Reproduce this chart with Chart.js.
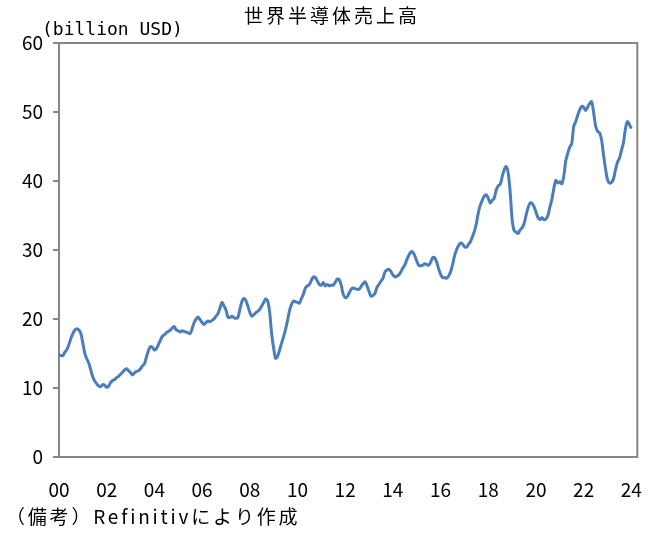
<!DOCTYPE html>
<html>
<head>
<meta charset="utf-8">
<script src="https://cdn.jsdelivr.net/npm/chart.js@4"></script>
<style>
  html, body { margin: 0; padding: 0; background: #fff; }
  #wrap { width: 655px; height: 533px; }
</style>
</head>
<body>
<div id="wrap"><canvas id="chart" width="655" height="533"></canvas></div>
<script>
// Monthly world semiconductor sales, billion USD, Jan 2000 - Jan 2024
const chartTitle = "世界半導体売上高";
const unitLabel = "(billion USD)";
const sourceNote = "（備考）Refinitivにより作成";
const startYear = 2000;
const tickYears = [2000, 2002, 2004, 2006, 2008, 2010, 2012, 2014, 2016, 2018, 2020, 2022, 2024];
const yTicks = [0, 10, 20, 30, 40, 50, 60];
const monthlySales = [
  14.8, 14.7, 14.7, 15.2, 15.6, 16.3, 17.2, 17.9, 18.4, 18.6, 18.4, 17.9, // 2000
  16.5, 15.0, 14.2, 13.6, 12.6, 11.6, 11.0, 10.6, 10.3, 10.2, 10.5, 10.4, // 2001
  10.1, 10.3, 10.8, 11.1, 11.2, 11.5, 11.7, 12.0, 12.3, 12.6, 12.8, 12.5, // 2002
  12.2, 11.9, 12.2, 12.4, 12.5, 12.8, 13.2, 13.5, 14.5, 15.4, 16.0, 15.9, // 2003
  15.5, 15.7, 16.3, 16.9, 17.5, 17.7, 18.0, 18.2, 18.4, 18.7, 18.9, 18.4, // 2004
  18.3, 18.1, 18.3, 18.2, 18.1, 18.0, 17.9, 18.6, 19.5, 20.0, 20.3, 19.9, // 2005
  19.5, 19.2, 19.5, 19.7, 19.6, 19.8, 20.0, 20.4, 20.8, 21.6, 22.4, 21.9, // 2006
  21.3, 20.3, 20.2, 20.4, 20.2, 20.1, 20.2, 21.4, 22.5, 23.0, 22.7, 21.9, // 2007
  21.0, 20.4, 20.6, 20.9, 21.1, 21.4, 21.9, 22.4, 22.9, 22.6, 21.0, 17.9, // 2008
  15.8, 14.3, 14.6, 15.5, 16.5, 17.4, 18.5, 19.8, 21.2, 22.1, 22.6, 22.5, // 2009
  22.4, 22.3, 23.0, 23.6, 24.5, 24.8, 25.0, 25.6, 26.1, 26.0, 25.5, 25.0, // 2010
  24.9, 25.3, 24.8, 25.0, 24.8, 24.9, 24.9, 25.3, 25.8, 25.7, 24.9, 23.6, // 2011
  23.1, 23.2, 23.8, 24.3, 24.5, 24.4, 24.3, 24.3, 24.7, 25.1, 25.4, 24.8, // 2012
  24.0, 23.3, 23.4, 23.7, 24.6, 25.0, 25.5, 25.9, 26.8, 27.1, 27.2, 26.9, // 2013
  26.4, 26.1, 26.2, 26.4, 26.8, 27.4, 27.8, 28.6, 29.2, 29.7, 29.7, 29.2, // 2014
  28.4, 27.8, 27.7, 27.8, 28.0, 27.9, 27.8, 28.2, 28.9, 28.9, 28.3, 27.3, // 2015
  26.5, 26.0, 26.0, 25.9, 26.2, 26.8, 27.8, 29.1, 30.0, 30.6, 31.0, 30.9, // 2016
  30.5, 30.4, 30.8, 31.2, 31.9, 32.7, 33.8, 35.4, 36.5, 37.2, 37.8, 38.0, // 2017
  37.5, 36.8, 37.2, 37.5, 38.7, 39.3, 39.5, 40.6, 41.6, 42.1, 41.2, 38.5, // 2018
  34.5, 32.8, 32.6, 32.4, 32.9, 33.2, 33.8, 35.0, 36.1, 36.8, 36.8, 36.3, // 2019
  35.5, 34.7, 34.4, 34.7, 34.4, 34.5, 35.0, 36.2, 37.3, 38.9, 40.1, 39.7, // 2020
  39.9, 39.6, 40.7, 42.9, 44.0, 44.9, 45.4, 47.9, 48.6, 49.5, 50.3, 50.8, // 2021
  50.7, 50.2, 50.7, 51.2, 51.5, 50.0, 48.0, 47.2, 47.0, 46.0, 43.8, 41.8, // 2022
  40.2, 39.7, 39.8, 40.3, 41.6, 42.7, 43.3, 44.4, 45.5, 47.5, 48.6, 48.2, // 2023
  47.6                                                                    // 2024
];

const points = monthlySales.map((v, i) => ({ x: i, y: v }));
const tickMonths = tickYears.map(y => (y - startYear) * 12);
const frameColor = "#868686";
const jpFont = "'Noto Sans CJK JP', 'Noto Sans', sans-serif";

// title, unit label, note and the box round the plot
const extras = {
  id: "extras",
  beforeDatasetsDraw(chart) {
    const { ctx, chartArea } = chart;
    ctx.save();
    ctx.strokeStyle = frameColor;
    ctx.lineWidth = 2;
    ctx.strokeRect(chartArea.left, chartArea.top, chartArea.right - chartArea.left, chartArea.bottom - chartArea.top);
    ctx.restore();
  },
  afterDraw(chart) {
    const { ctx } = chart;
    ctx.save();
    ctx.fillStyle = "#000";
    ctx.textBaseline = "middle";
    ctx.font = "19px " + jpFont;
    ctx.letterSpacing = "3px";
    ctx.textAlign = "center";
    ctx.fillText(chartTitle, 332, 16);
    ctx.textAlign = "left";
    ctx.letterSpacing = "0px";
    ctx.font = "18px 'DejaVu Sans Mono', monospace";
    ctx.fillText(unitLabel, 42, 30);
    ctx.font = "19px " + jpFont;
    ctx.letterSpacing = "2.8px";
    ctx.fillText(sourceNote, 6, 517);
    ctx.restore();
  }
};

new Chart(document.getElementById("chart"), {
  type: "line",
  data: {
    datasets: [{
      data: points,
      borderColor: "#4A7EBB",
      borderWidth: 3,
      pointRadius: 0,
      tension: 0.3,
      fill: false
    }]
  },
  options: {
    responsive: false,
    animation: false,
    layout: { padding: { top: 43, right: 12, bottom: 26, left: 0 } },
    plugins: { legend: { display: false }, tooltip: { enabled: false } },
    scales: {
      x: {
        type: "linear",
        min: 0,
        max: 291,
        afterBuildTicks: axis => { axis.ticks = tickMonths.map(v => ({ value: v })); },
        afterFit: axis => { axis.height = 50; },
        grid: { display: false },
        border: { display: false },
        ticks: {
          autoSkip: false,
          maxRotation: 0,
          padding: 13,
          color: "#000",
          font: { family: jpFont, size: 19 },
          callback: v => String((startYear + v / 12) % 100).padStart(2, "0")
        }
      },
      y: {
        min: 0,
        max: 60,
        afterBuildTicks: axis => { axis.ticks = yTicks.map(v => ({ value: v })); },
        afterFit: axis => { axis.width = 59; },
        grid: { drawOnChartArea: false, tickLength: 6, color: frameColor, lineWidth: 2 },
        border: { display: false },
        ticks: {
          padding: 10,
          color: "#000",
          font: { family: jpFont, size: 19 }
        }
      }
    }
  },
  plugins: [extras]
});
</script>
</body>
</html>
